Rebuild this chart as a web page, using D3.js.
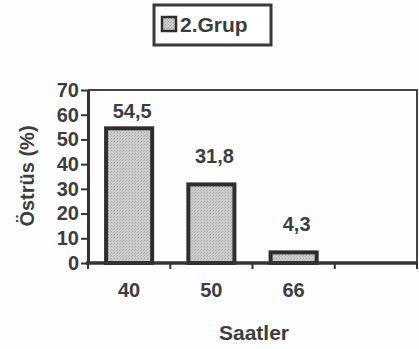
<!DOCTYPE html>
<html>
<head>
<meta charset="utf-8">
<script src="https://cdn.jsdelivr.net/npm/d3@7/dist/d3.min.js"></script>
<style>
  html, body { margin: 0; padding: 0; background: #fdfdfd; }
  svg { display: block; font-family: "Liberation Sans", Arial, sans-serif; }
</style>
</head>
<body>
<svg id="chart" width="419" height="349"></svg>
<script>
// Hours after treatment (last slot is an empty category on the axis)
const hours = ["40", "50", "66", ""];
// Oestrus rate (%) for group 2
const oestrus = [54.5, 31.8, 4.3, null];
const valueLabels = ["54,5", "31,8", "4,3"];
const yTicks = [0, 10, 20, 30, 40, 50, 60, 70];
const seriesName = "2.Grup";
const xTitle = "Saatler";
const yTitle = "Östrüs (%)";

(function () {
  const ink = "#3d3d3d";
  const svg = d3.select("#chart");

  const plotLeft = 88, plotRight = 417, plotTop = 90, plotBottom = 263;

  const x = d3.scaleBand().domain(hours).range([plotLeft, plotRight]).paddingInner(0.44).paddingOuter(0.22);
  const y = d3.scaleLinear().domain([0, 70]).range([plotBottom, plotTop]);

  // stippled bar fill
  const defs = svg.append("defs");
  const pat = defs.append("pattern").attr("id", "stipple")
    .attr("width", 3).attr("height", 3).attr("patternUnits", "userSpaceOnUse");
  pat.append("rect").attr("width", 3).attr("height", 3).attr("fill", "#cbcbcb");
  pat.append("rect").attr("x", 0).attr("y", 0).attr("width", 1).attr("height", 1).attr("fill", "#a9a9a9");
  pat.append("rect").attr("x", 2).attr("y", 1).attr("width", 1).attr("height", 1).attr("fill", "#b5b5b5");

  // plot frame (top and right edges)
  svg.append("path")
    .attr("d", `M${plotLeft},${plotTop}H${plotRight}V${plotBottom}`)
    .attr("fill", "none").attr("stroke", "#444").attr("stroke-width", 2);

  // bars
  const data = hours.map((h, i) => ({ h, v: oestrus[i], label: valueLabels[i] })).filter(d => d.v != null);

  svg.append("g").selectAll("rect").data(data).join("rect")
    .attr("x", d => x(d.h))
    .attr("y", d => y(d.v))
    .attr("width", x.bandwidth())
    .attr("height", d => y(0) - y(d.v))
    .attr("fill", "url(#stipple)")
    .attr("stroke", "#2e2e2e")
    .attr("stroke-width", 4);

  // value labels
  svg.append("g").selectAll("text").data(data).join("text")
    .attr("x", d => x(d.h) + x.bandwidth() / 2 + 3)
    .attr("y", d => Math.max(plotTop + 28, y(d.v) - 21))
    .attr("text-anchor", "middle")
    .attr("font-size", 20).attr("font-weight", "bold").attr("fill", ink)
    .text(d => d.label);

  // y axis
  const yAxis = svg.append("g").attr("transform", `translate(${plotLeft},0)`)
    .call(d3.axisLeft(y).tickValues(yTicks).tickSize(7).tickSizeOuter(0));
  yAxis.select(".domain").attr("stroke", "#333").attr("stroke-width", 3);
  yAxis.selectAll(".tick line").attr("stroke", "#333").attr("stroke-width", 2);
  yAxis.selectAll(".tick text").attr("font-size", 20).attr("font-weight", "bold")
    .attr("fill", ink).attr("font-family", "Liberation Sans, Arial, sans-serif").attr("x", -9);

  // x axis with ticks at category boundaries
  svg.append("line").attr("x1", plotLeft - 2).attr("x2", plotRight + 1).attr("y1", plotBottom).attr("y2", plotBottom)
    .attr("stroke", "#333").attr("stroke-width", 3.5);
  const bounds = hours.map(h => x(h) - x.step() * x.paddingInner() / 2).concat([plotRight]);
  svg.append("g").selectAll("line").data(bounds).join("line")
    .attr("x1", d => d).attr("x2", d => d).attr("y1", plotBottom).attr("y2", plotBottom + 6)
    .attr("stroke", "#333").attr("stroke-width", 2);
  svg.append("g").selectAll("text").data(hours.filter(h => h !== "")).join("text")
    .attr("x", d => x(d) + x.bandwidth() / 2)
    .attr("y", 297)
    .attr("text-anchor", "middle")
    .attr("font-size", 20).attr("font-weight", "bold").attr("fill", ink)
    .text(d => d);

  // axis titles
  svg.append("text").attr("x", 254).attr("y", 340).attr("text-anchor", "middle")
    .attr("font-size", 21).attr("font-weight", "bold").attr("fill", ink).text(xTitle);
  svg.append("text").attr("transform", "translate(34,176) rotate(-90)").attr("text-anchor", "middle")
    .attr("font-size", 20).attr("font-weight", "bold").attr("fill", ink).text(yTitle);

  // legend
  const lg = svg.append("g");
  lg.append("rect").attr("x", 154).attr("y", 5).attr("width", 117).attr("height", 40)
    .attr("fill", "#fff").attr("stroke", "#3a3a3a").attr("stroke-width", 3);
  lg.append("rect").attr("x", 162).attr("y", 17).attr("width", 14).attr("height", 14)
    .attr("fill", "url(#stipple)").attr("stroke", "#2e2e2e").attr("stroke-width", 2.5);
  lg.append("text").attr("x", 180).attr("y", 32)
    .attr("font-size", 21).attr("font-weight", "bold").attr("fill", ink).text(seriesName);
})();
</script>
</body>
</html>
